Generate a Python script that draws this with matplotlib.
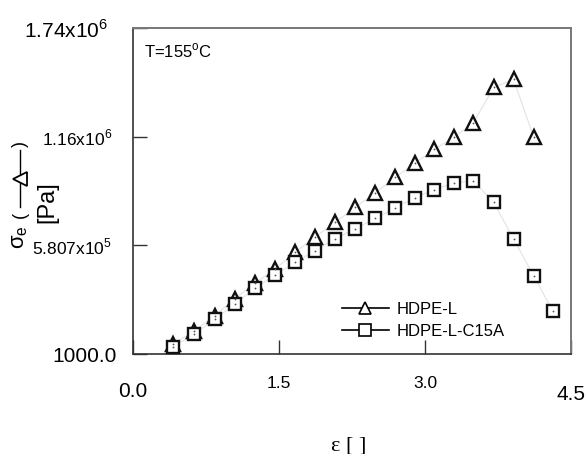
import matplotlib
matplotlib.use("Agg")
import matplotlib.pyplot as plt
from matplotlib.lines import Line2D

plt.rcParams['font.family'] = ['Liberation Sans', 'DejaVu Sans']
plt.rcParams['mathtext.fontset'] = 'custom'
plt.rcParams['mathtext.rm'] = 'Liberation Sans'

# strain values (shared grid)
strain = [0.412, 0.626, 0.838, 1.044, 1.251, 1.457, 1.665, 1.869, 2.077, 2.284,
          2.490, 2.693, 2.894, 3.093, 3.302, 3.498, 3.706, 3.910, 4.116, 4.312]
# HDPE-L (triangles) - 19 points
hdpe_l = [52800, 123800, 205500, 294700, 378500, 453300, 543000, 624200, 704300,
          783300, 861800, 943500, 1019300, 1093000, 1159800, 1236100, 1424100,
          1466800, 1159800]
# HDPE-L-C15A (squares) - 20 points
hdpe_c15a = [40000, 106200, 186300, 266400, 351800, 422900, 489600, 552600, 616700,
             670100, 724600, 782200, 834000, 878400, 915700, 924800, 810000, 615100,
             419100, 230600]

ytick_vals = [1000, 5.807e5, 1.16e6, 1.74e6]
ytick_labels = ['1000.0', r'5.807x10$^{\mathregular{5}}$', r'1.16x10$^{\mathregular{6}}$',
                r'1.74x10$^{\mathregular{6}}$']
xtick_vals = [0.0, 1.5, 3.0, 4.5]
xtick_labels = ['0.0', '1.5', '3.0', '4.5']
series_names = ['HDPE-L', 'HDPE-L-C15A']

W, H = 587, 454
fig = plt.figure(figsize=(W / 100, H / 100), dpi=100)
ax = fig.add_axes([133 / W, 1 - 354 / H, (571 - 133) / W, (354 - 28.3) / H])

x_tri = strain[:len(hdpe_l)]
x_sq = strain[:len(hdpe_c15a)]

ax.plot(x_tri, hdpe_l, color='#e3e3e3', lw=0.8, zorder=1)
ax.plot(x_sq, hdpe_c15a, color='#e3e3e3', lw=0.8, zorder=1)
ax.plot(x_tri, hdpe_l, ls='none', marker='^', ms=10.5, mfc='white', mec='#111111', mew=1.7, zorder=3)
ax.plot(x_sq, hdpe_c15a, ls='none', marker='s', ms=8, mfc='white', mec='#111111', mew=1.7, zorder=3)
ax.plot(x_tri, hdpe_l, ls='none', marker='o', ms=1.3, mfc='#555555', mec='none', zorder=4)
ax.plot(x_sq, hdpe_c15a, ls='none', marker='o', ms=1.3, mfc='#555555', mec='none', zorder=4)

ax.set_xlim(0, 4.5)
ax.set_ylim(1000, 1.74e6)

ax.set_xticks(xtick_vals)
ax.set_xticklabels(xtick_labels)
ax.set_yticks(ytick_vals)
ax.set_yticklabels(ytick_labels)
ax.tick_params(direction='in', length=10, width=1.0, color='#333333')
ax.tick_params(axis='y', pad=15)

big = {'0.0', '4.5', '1000.0', ytick_labels[3]}
for lab in ax.get_xticklabels() + ax.get_yticklabels():
    lab.set_fontsize(15 if lab.get_text() in big else 12.5)
xpads = [20, 16, 16, 22]
for t, p in zip(ax.xaxis.get_major_ticks(), xpads):
    t.set_pad(p)
ypads = [12, 15, 15, 18]
for t, p in zip(ax.yaxis.get_major_ticks(), ypads):
    t.set_pad(p)

for side in ['left', 'bottom']:
    ax.spines[side].set_color('#333333')
    ax.spines[side].set_linewidth(1.2)
for side in ['top', 'right']:
    ax.spines[side].set_color('#777777')
    ax.spines[side].set_linewidth(1.4)

ax.text((144 - 133) / 438, 1 - (51 - 28.3) / 325.7, r'T=155$^{\mathregular{o}}$C',
        transform=ax.transAxes, fontsize=12, ha='left', va='center')

handles = [Line2D([], [], color='black', lw=1.2, marker='^', ms=9, mfc='white', mec='black', mew=1.2),
           Line2D([], [], color='black', lw=1.2, marker='s', ms=8, mfc='white', mec='black', mew=1.2)]
ax.legend(handles, series_names, loc='upper left',
          bbox_to_anchor=((342 - 133) / 438, (354 - 302) / 325.7),
          frameon=False, fontsize=12, borderpad=0, borderaxespad=0,
          handlelength=2.8, handletextpad=0.45, labelspacing=0.4)

# y label pieces
def fx(px):
    return px / W

def fy(py):
    return 1 - py / H

fig.text(fx(20), fy(237), r'$\mathregular{\sigma_e}$', rotation=90, ha='center', va='center', fontsize=16)
fig.text(fx(20), fy(215), '(', rotation=90, ha='center', va='center', fontsize=13)
fig.text(fx(20), fy(144), ')', rotation=90, ha='center', va='center', fontsize=13)
fig.add_artist(Line2D([fx(20), fx(20)], [fy(207), fy(150)], color='black', lw=1.0,
                      transform=fig.transFigure))
fig.add_artist(Line2D([fx(20)], [fy(179)], marker='<', ms=10, mfc='white', mec='black', mew=1.3,
                      ls='none', transform=fig.transFigure))
fig.text(fx(47), fy(202), '[Pa]', rotation=90, ha='center', va='center', fontsize=17)

# x label
fig.text(fx(349), fy(446), 'ε [ ]', ha='center', va='center', fontsize=16,
         family=['Liberation Serif', 'DejaVu Serif'])

fig.savefig('out.png', dpi=100)
